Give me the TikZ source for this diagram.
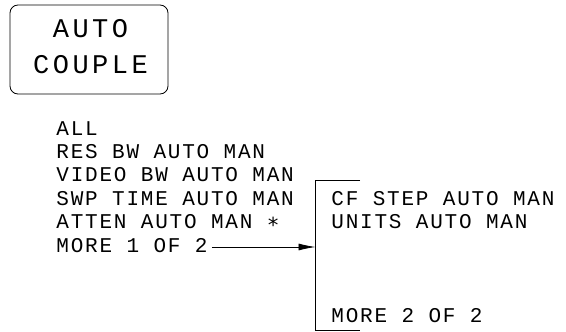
\documentclass[tikz,border=0pt]{standalone}
\usepackage{fontspec}
\newfontfamily\menufont[LetterSpace=8.5]{Liberation Mono}
\newfontfamily\keyfont[LetterSpace=13]{Liberation Mono}
\newfontfamily\symfont{DejaVu Sans Mono}
\usetikzlibrary{arrows.meta, positioning}

\begin{document}
\begin{tikzpicture}[x=1pt, y=-1pt, line width=0.8pt,
    menu/.style={anchor=base west, inner sep=0pt, font=\fontsize{21}{23.4}\menufont},
    keybox/.style={draw, rounded corners=8pt, minimum width=158pt, minimum height=89pt},
    keylbl/.style={anchor=base, inner sep=0pt, xshift=1.5pt, font=\fontsize{27}{36}\keyfont}]
    \useasboundingbox (0,0) rectangle (566,332);

    % softkey
    \node (key) at (89,49.5) [keybox] {};
    \node (keyup) at (89,37.5) [keylbl] {AUTO};
    \node (keylo) at (89,73.5) [keylbl] {COUPLE};

    % first menu page
    \node (all)   at (56,135)   [menu] {ALL};
    \node (resbw) at (56,158.4) [menu] {RES BW AUTO MAN};
    \node (vidbw) at (56,181.8) [menu] {VIDEO BW AUTO MAN};
    \node (swp)   at (56,205.2) [menu] {SWP TIME AUTO MAN};
    \node (atten) at (56,228.6) [menu] {ATTEN AUTO MAN {\symfont ∗}};
    \node (more1) at (56,252)   [menu] {MORE 1 OF 2};

    % second menu page
    \coordinate (brktop) at (360,180.5);
    \coordinate (brkbot) at (360,330.5);
    \coordinate (brkin) at (315.5,247);
    \draw (brktop) -| (brkin) |- (brkbot);
    \node (cfstep) at (331,205.2) [menu] {CF STEP AUTO MAN};
    \node (units)  at (331,228.6) [menu] {UNITS AUTO MAN};
    \node (more2)  at (331,322)   [menu] {MORE 2 OF 2};

    \draw [-{Latex[length=17pt, width=7pt]}] ([xshift=4pt]more1.east |- brkin) -- (brkin);
\end{tikzpicture}
\end{document}
